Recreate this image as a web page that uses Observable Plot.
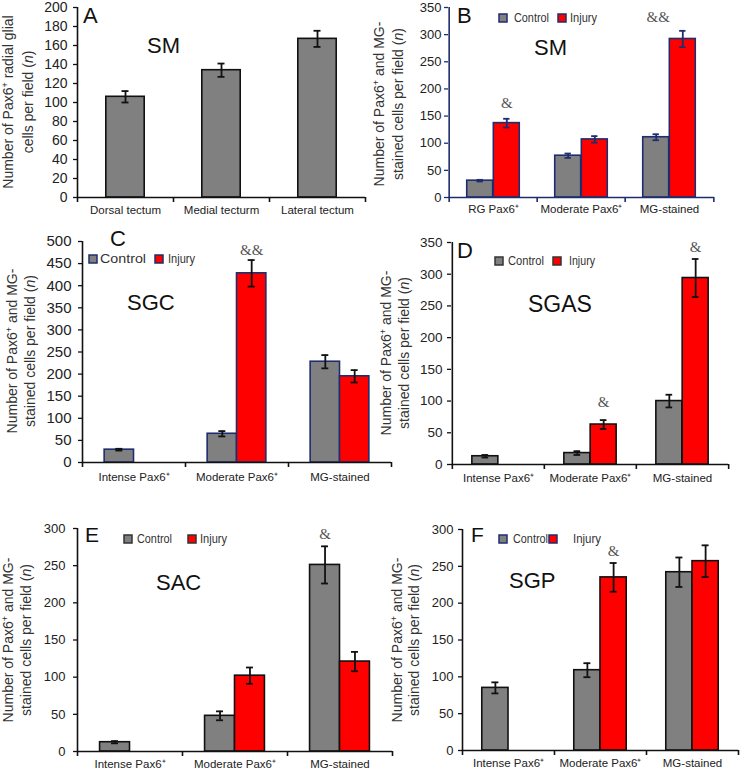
<!DOCTYPE html>
<html><head><meta charset="utf-8">
<script src="https://cdn.jsdelivr.net/npm/d3@7"></script>
<script src="https://cdn.jsdelivr.net/npm/@observablehq/plot@0.6"></script>
<style>
html,body{margin:0;padding:0;background:#fff;}
#fig{position:relative;width:742px;height:771px;overflow:hidden;background:#fff;}
#fig svg{position:absolute;}
</style></head><body><div id="fig"></div>
<script>
// ---------- DATA ----------
const catsA = ["Dorsal tectum", "Medial tecturm", "Lateral tectum"];
const valA = [106, 134, 167];
const errA = [6, 7, 8.5];

const catsB = ["RG Pax6⁺", "Moderate Pax6⁺", "MG-stained"];
const ctrlB = [31, 77, 111];
const ctrlErrB = [1.5, 4, 5.5];
const injB = [137, 107, 292];
const injErrB = [8, 6, 15];

const catsCF = ["Intense Pax6⁺", "Moderate Pax6⁺", "MG-stained"];
const ctrlC = [29, 65, 228];
const ctrlErrC = [2, 6, 15];
const injC = [null, 428, 195];
const injErrC = [null, 30, 14];

const ctrlD = [13, 18, 100];
const ctrlErrD = [2, 3, 10];
const injD = [null, 63, 294];
const injErrD = [null, 7, 30];

const ctrlE = [12.5, 48, 251];
const ctrlErrE = [1.5, 6, 25];
const injE = [null, 102, 121];
const injErrE = [null, 11, 13];

const ctrlF = [85, 109, 242];
const ctrlErrF = [7.5, 9.5, 20];
const injF = [null, 235, 257];
const injErrF = [null, 19.5, 21.5];

const ticksA = [0, 20, 40, 60, 80, 100, 120, 140, 160, 180, 200];
const ticksB = [0, 50, 100, 150, 200, 250, 300, 350];
const ticksC = [0, 50, 100, 150, 200, 250, 300, 350, 400, 450, 500];
const ticksD = [0, 50, 100, 150, 200, 250, 300, 350];
const ticksE = [0, 50, 100, 150, 200, 250, 300];
const ticksF = [0, 50, 100, 150, 200, 250, 300];

// significance marks: category, series index (0 control,1 injury), y value, text
const annB = [{cat: "RG Pax6⁺", si: 1, y: 174, text: "&"}, {cat: "MG-stained", si: 0, y: 332, text: "&&", dx: 2}];
const annC = [{cat: "Moderate Pax6⁺", si: 1, y: 481, text: "&&"}];
const annD = [{cat: "Moderate Pax6⁺", si: 1, y: 99, text: "&"}, {cat: "MG-stained", si: 1, y: 342, text: "&"}];
const annE = [{cat: "MG-stained", si: 0, y: 293, text: "&"}];
const annF = [{cat: "Moderate Pax6⁺", si: 1, y: 271, text: "&"}];

const legNames = ["Control", "Injury"];

// ---------- STYLE ----------
const GRAY = "#808080", RED = "#ff0000", NAVY = "#1f2d6e", BLACK = "#111111";
const FONT = '"Liberation Sans", Arial, Helvetica, sans-serif';
const SERIF = '"Liberation Serif", "Times New Roman", serif';
const fig = document.getElementById("fig");

function panel(c) {
  const fw = c.width - c.ml - c.mr, fh = c.height - c.mt - c.mb;
  const bw = fw / c.cats.length;
  const marks = [];
  c.series.forEach((s, si) => {
    const data = c.cats.map((cat, i) => ({cat, value: s.values[i], err: s.errors[i]})).filter(d => d.value != null);
    const [a, b] = c.slots[si];
    const center = (a + b) / 2 * bw;
    marks.push(Plot.barY(data, {x: "cat", y: "value", fill: s.color, stroke: c.barStroke, strokeWidth: 1.6,
      insetLeft: a * bw, insetRight: (1 - b) * bw}));
    marks.push(Plot.ruleX(data, {x: "cat", y1: d => d.value - d.err, y2: d => d.value + d.err,
      dx: center - bw / 2, stroke: c.errStroke, strokeWidth: 1.8}));
    for (const k of [-1, 1]) {
      marks.push(Plot.tickY(data, {x: "cat", y: d => d.value + k * d.err,
        insetLeft: center - 3.5, insetRight: bw - center - 3.5, stroke: c.errStroke, strokeWidth: 1.8}));
    }
  });
  for (const an of (c.ann || [])) {
    const [a, b] = c.slots[an.si];
    const center = (a + b) / 2 * bw;
    marks.push(Plot.text([an], {x: "cat", y: "y", text: "text", dx: center - bw / 2 + (an.dx || 0),
      fontFamily: SERIF, fontSize: 15, fill: "#555"}));
  }
  marks.push(Plot.axisY({ticks: c.yTicks, tickSize: 4, tickPadding: c.yPad, fontSize: c.yFont,
    stroke: c.axis, fill: "#222", label: null, strokeWidth: 1.3}));
  marks.push(Plot.axisX({tickSize: 0, tickPadding: c.xPad, fontSize: 11.5, fill: "#222", label: null}));
  marks.push(Plot.ruleY([0], {stroke: c.axis, strokeWidth: 1.6}));
  marks.push(Plot.ruleX([c.cats[0]], {dx: -bw / 2, stroke: c.axis, strokeWidth: 1.6}));
  marks.push(Plot.ruleX(c.cats, {dx: -bw / 2, insetTop: fh, insetBottom: -5, stroke: c.axis, strokeWidth: 1.6}));
  marks.push(Plot.ruleX([c.cats[c.cats.length - 1]], {dx: bw / 2, insetTop: fh, insetBottom: -5, stroke: c.axis, strokeWidth: 1.6}));

  const svg = Plot.plot({
    width: c.width, height: c.height,
    marginLeft: c.ml, marginRight: c.mr, marginTop: c.mt, marginBottom: c.mb,
    x: {type: "band", domain: c.cats, paddingInner: 0, paddingOuter: 0},
    y: {domain: [0, c.ymax]},
    style: {background: "transparent", overflow: "visible", fontFamily: FONT, color: "#222",
      position: "absolute", left: c.left + "px", top: c.top + "px"},
    marks
  });
  fig.appendChild(svg);
}

const slots2 = [[0.215, 0.5], [0.5, 0.785]];

panel({left: 0, top: 0, width: 371, height: 225, ml: 77, mr: 6, mt: 7, mb: 28,
  cats: catsA, ymax: 200, yTicks: ticksA, yFont: 14, yPad: 6, xPad: 8,
  series: [{values: valA, errors: errA, color: GRAY}], slots: [[0.3, 0.7]],
  barStroke: BLACK, errStroke: BLACK, axis: BLACK});

panel({left: 371, top: 0, width: 371, height: 225, ml: 77, mr: 28, mt: 7, mb: 28,
  cats: catsB, ymax: 350, yTicks: ticksB, yFont: 13, yPad: 3, xPad: 7,
  series: [{values: ctrlB, errors: ctrlErrB, color: GRAY}, {values: injB, errors: injErrB, color: RED}],
  slots: [[0.2, 0.5], [0.5, 0.8]], ann: annB,
  barStroke: NAVY, errStroke: NAVY, axis: NAVY});

panel({left: 0, top: 225, width: 400, height: 260, ml: 82, mr: 9, mt: 16, mb: 23,
  cats: catsCF, ymax: 500, yTicks: ticksC, yFont: 15, yPad: 7, xPad: 10,
  series: [{values: ctrlC, errors: ctrlErrC, color: GRAY}, {values: injC, errors: injErrC, color: RED}],
  slots: slots2, ann: annC,
  barStroke: NAVY, errStroke: BLACK, axis: BLACK});

panel({left: 371, top: 225, width: 371, height: 260, ml: 80, mr: 14, mt: 17, mb: 21,
  cats: catsCF, ymax: 350, yTicks: ticksD, yFont: 13.5, yPad: 5, xPad: 9,
  series: [{values: ctrlD, errors: ctrlErrD, color: GRAY}, {values: injD, errors: injErrD, color: RED}],
  slots: slots2, ann: annD,
  barStroke: BLACK, errStroke: BLACK, axis: BLACK});

panel({left: 0, top: 500, width: 400, height: 271, ml: 77, mr: 8, mt: 28, mb: 20,
  cats: catsCF, ymax: 300, yTicks: ticksE, yFont: 13, yPad: 8, xPad: 8,
  series: [{values: ctrlE, errors: ctrlErrE, color: GRAY}, {values: injE, errors: injErrE, color: RED}],
  slots: slots2, ann: annE,
  barStroke: BLACK, errStroke: BLACK, axis: BLACK});

panel({left: 371, top: 500, width: 371, height: 271, ml: 91, mr: 4, mt: 29, mb: 21,
  cats: catsCF, ymax: 300, yTicks: ticksF, yFont: 13, yPad: 5, xPad: 8,
  series: [{values: ctrlF, errors: ctrlErrF, color: GRAY}, {values: injF, errors: injErrF, color: RED}],
  slots: slots2, ann: annF,
  barStroke: BLACK, errStroke: BLACK, axis: BLACK});

// ---------- overlay texts: panel letters, titles, legends, y titles ----------
const ov = d3.select("#fig").append("svg").attr("width", 742).attr("height", 771)
  .style("left", "0px").style("top", "0px").style("font-family", FONT).style("pointer-events", "none");

const letters = [["A", 83, 23, 22], ["B", 457, 23, 22], ["C", 110, 246, 22], ["D", 457, 258, 22], ["E", 85, 542, 21], ["F", 471, 542, 21]];
letters.forEach(([t, x, y, s]) => ov.append("text").attr("x", x).attr("y", y).attr("font-size", s).attr("fill", "#111").text(t));

const titles = [["SM", 147, 53, 22], ["SM", 534, 55, 22], ["SGC", 127, 310, 22], ["SGAS", 528, 312, 23], ["SAC", 156, 590, 22], ["SGP", 509, 588, 22]];
titles.forEach(([t, x, y, s]) => ov.append("text").attr("x", x).attr("y", y).attr("font-size", s).attr("fill", "#111").text(t));

const legends = [
  {sq: [[499, 14], [558, 14]], tx: [514, 570], w: [35, 27], y: 22, fs: 13, stroke: NAVY},
  {sq: [[89, 255], [155, 255]], tx: [100, 168], w: [46, 27], y: 263, fs: 13, stroke: NAVY},
  {sq: [[495, 257], [553, 257]], tx: [508, 569], w: [36, 26], y: 265, fs: 13, stroke: "#333"},
  {sq: [[124, 535], [188, 535]], tx: [137, 200], w: [35, 27], y: 543, fs: 13, stroke: "#333"},
  {sq: [[499, 535], [549, 535]], tx: [513, 573], w: [35, 28], y: 543, fs: 13, stroke: NAVY}
];
const legColors = [GRAY, RED];
legends.forEach(L => {
  L.sq.forEach(([x, y], i) => {
    ov.append("rect").attr("x", x).attr("y", y).attr("width", 8).attr("height", 8)
      .attr("fill", legColors[i]).attr("stroke", L.stroke).attr("stroke-width", 1.5);
    ov.append("text").attr("x", L.tx[i]).attr("y", L.y).attr("font-size", L.fs).attr("fill", "#333")
      .attr("textLength", L.w[i]).attr("lengthAdjust", "spacingAndGlyphs").text(legNames[i]);
  });
});

function yLabel(bx1, bx2, cy, rest1, pre2) {
  const g = ov.append("g").attr("font-size", 14).attr("fill", "#333").attr("text-anchor", "middle");
  const t1 = g.append("text").attr("transform", `translate(${bx1},${cy}) rotate(-90)`);
  t1.append("tspan").text("Number of Pax6");
  t1.append("tspan").attr("dy", -5).attr("font-size", 9).text("+");
  t1.append("tspan").attr("dy", 5).text(rest1);
  const t2 = g.append("text").attr("transform", `translate(${bx2},${cy}) rotate(-90)`);
  t2.append("tspan").text(pre2);
  t2.append("tspan").attr("font-style", "italic").text("n");
  t2.append("tspan").text(")");
}
yLabel(13, 33, 102, " radial glial", "cells per field (");
yLabel(384, 403, 104, " and MG-", "stained cells per field (");
yLabel(17, 35, 351, " and MG-", "stained cells per field (");
yLabel(391, 409, 353, " and MG-", "stained cells per field (");
yLabel(13, 31, 640, " and MG-", "stained cells per field (");
yLabel(402, 419, 640, " and MG-", "stained cells per field (");
</script></body></html>
